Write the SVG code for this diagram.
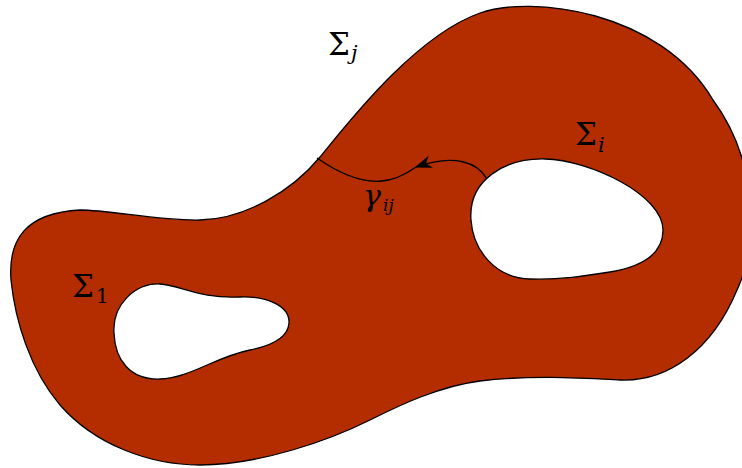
<svg xmlns="http://www.w3.org/2000/svg" width="742" height="468" viewBox="0 0 742 468">
<style>
.surf{fill:#b32d00;stroke:#000;stroke-width:1.3;fill-rule:evenodd}
.curve{fill:none;stroke:#000;stroke-width:1.3}
.lbl{font-family:"DejaVu Serif","Liberation Serif",serif;fill:#000}
.it{font-style:italic}
</style>
<defs>
<marker id="arr" markerUnits="userSpaceOnUse" markerWidth="20" markerHeight="20" refX="0" refY="0" viewBox="-12 -6 14 12" orient="auto">
<path d="M1,0 L-11,-4.5 L-7.5,0 L-11,4.5 Z" fill="#000"/>
</marker>
</defs>
<rect width="742" height="468" fill="#fff"/>
<g id="surface">
<path class="surf" d="M11,280 C8,240 25,213 80,210 C110,210 160,221 200,220 C245,219 292,191 320,157 C348,123 415,36 480,13 C530,-5 660,10 713,100 C750,150 765,230 737,290 C712,350 668,382 620,380 C580,378 530,375 480,381 C440,386 400,405 370,420 C330,440 260,465 200,465 C150,465 95,445 60,405 C30,370 15,320 11,280 Z
M114,333 C112,305 135,283 160,284 C180,285 200,299 240,297 C265,296 290,305 289,323 C288,338 270,346 250,350 C215,357 190,378 160,379 C130,380 115,360 114,333 Z
M471,220 C468,180 505,158 545,159 C590,160 663,195 663,230 C663,255 640,267 610,272 C585,276 560,280 530,279 C495,278 473,250 471,220 Z"/>
</g>
<g id="connectors">
<path id="gamma-arrow" class="curve" d="M487,179 C478,163 455,153 416,167" marker-end="url(#arr)"/>
<path id="gamma-rest" class="curve" d="M416,167 C398,180 370,195 317,158"/>
</g>
<g id="label-sigma-j"><text class="lbl" x="328" y="55" font-size="31">Σ</text><text class="lbl it" x="351" y="60" font-size="21">j</text></g>
<g id="label-sigma-i"><text class="lbl" x="575" y="145" font-size="31">Σ</text><text class="lbl it" x="598" y="152" font-size="21">i</text></g>
<g id="label-sigma-1"><text class="lbl" x="72" y="297" font-size="31">Σ</text><text class="lbl" x="96" y="303" font-size="20">1</text></g>
<g id="label-gamma"><text class="lbl it" x="363" y="206" font-size="30">γ</text><text class="lbl it" x="383" y="211" font-size="17">ij</text></g>
</svg>
